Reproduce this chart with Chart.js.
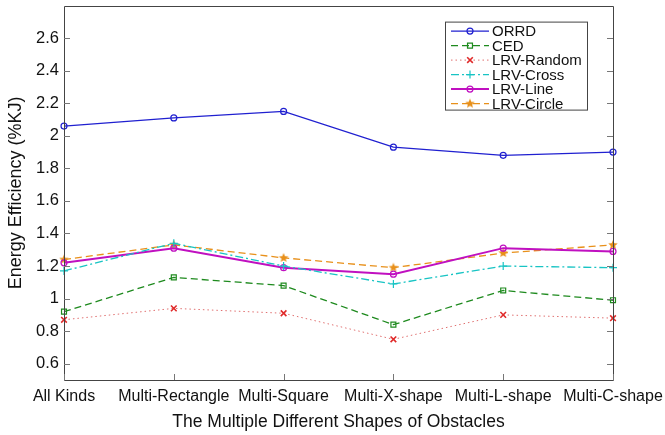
<!DOCTYPE html>
<html>
<head>
<meta charset="utf-8">
<script src="https://cdn.jsdelivr.net/npm/chart.js@4.4.1/dist/chart.umd.min.js"></script>
<style>
  html, body { margin: 0; padding: 0; background: #fff; }
  #wrap { width: 665px; height: 435px; }
</style>
</head>
<body>
<div id="wrap"><canvas id="effChart" width="665" height="435"></canvas></div>
<script>
const shapes = ['All Kinds', 'Multi-Rectangle', 'Multi-Square', 'Multi-X-shape', 'Multi-L-shape', 'Multi-C-shape'];
const orrd = [2.06, 2.11, 2.15, 1.93, 1.88, 1.90];
const ced = [0.92, 1.13, 1.08, 0.84, 1.05, 0.99];
const lrvRandom = [0.87, 0.94, 0.91, 0.75, 0.90, 0.88];
const lrvCross = [1.17, 1.34, 1.20, 1.09, 1.20, 1.19];
const lrvLine = [1.22, 1.31, 1.19, 1.15, 1.31, 1.29];
const lrvCircle = [1.24, 1.33, 1.25, 1.19, 1.28, 1.33];
const yTicks = [0.6, 0.8, 1, 1.2, 1.4, 1.6, 1.8, 2, 2.2, 2.4, 2.6];

const FONT = 'Arial, "Liberation Sans", sans-serif';

// filled five-point star used as the LRV-Circle marker
const makeStar = (color, r) => {
    const c = document.createElement('canvas');
    const s = r * 2 + 2;
    c.width = s; c.height = s;
    const g = c.getContext('2d');
    g.beginPath();
    for (let i = 0; i < 10; i++) {
        const rad = i % 2 === 0 ? r : r * 0.45;
        const a = -Math.PI / 2 + i * Math.PI / 5;
        g.lineTo(s / 2 + rad * Math.cos(a), s / 2 + rad * Math.sin(a));
    }
    g.closePath();
    g.fillStyle = color;
    g.fill();
    return c;
}

const line = (label, data, color, opts) => ({
    label,
    data,
    borderColor: color,
    backgroundColor: 'rgba(0,0,0,0)',
    pointBorderColor: color,
    pointBackgroundColor: 'rgba(0,0,0,0)',
    borderWidth: 1.3,
    pointRadius: 3,
    pointBorderWidth: 1.2,
    tension: 0,
    ...opts
})

const datasets = [
    line('ORRD', orrd, '#2020d0', {pointStyle: 'circle'}),
    line('CED', ced, '#1e8a1e', {pointStyle: 'rect', borderDash: [7, 4], pointRadius: 3.5}),
    line('LRV-Random', lrvRandom, '#e02a2a', {pointStyle: 'crossRot', borderDash: [1.5, 3], borderWidth: 1, borderColor: '#e07070', pointRadius: 4, pointBorderWidth: 1.6}),
    line('LRV-Cross', lrvCross, '#18c4c4', {pointStyle: 'cross', borderDash: [8, 3, 2, 3], pointRadius: 4}),
    line('LRV-Line', lrvLine, '#c010c0', {pointStyle: 'circle', borderWidth: 2}),
    line('LRV-Circle', lrvCircle, '#e8901a', {pointStyle: makeStar('#e8901a', 5), borderDash: [7, 4]}),
];

// MATLAB-like box with inward ticks
const framePlugin = {
    id: 'frame',
    afterDatasetsDraw(chart) {
        const {ctx, chartArea: a, scales} = chart;
        ctx.save();
        ctx.strokeStyle = '#444';
        ctx.lineWidth = 1;
        ctx.beginPath();
        ctx.rect(Math.round(a.left) + 0.5, Math.round(a.top) + 0.5, Math.round(a.right - a.left), Math.round(a.bottom - a.top));
        ctx.stroke();
        ctx.strokeStyle = '#777';
        ctx.beginPath();
        yTicks.forEach(v => {
            const y = Math.round(scales.y.getPixelForValue(v)) + 0.5;
            ctx.moveTo(a.left, y); ctx.lineTo(a.left + 6, y);
            ctx.moveTo(a.right, y); ctx.lineTo(a.right - 6, y);
        });
        shapes.forEach((s, i) => {
            const x = Math.round(scales.x.getPixelForValue(i)) + 0.5;
            ctx.moveTo(x, a.bottom); ctx.lineTo(x, a.bottom - 6);
        });
        ctx.stroke();
        ctx.restore();
    }
}

const drawMarker = (ctx, ds, x, y) => {
    const style = ds.pointStyle;
    if (style instanceof HTMLCanvasElement) {
        ctx.drawImage(style, x - style.width / 2, y - style.height / 2);
        return;
    }
    Chart.helpers.drawPoint(ctx, {
        pointStyle: style,
        radius: ds.pointRadius,
        rotation: 0,
        borderWidth: ds.pointBorderWidth
    }, x, y);
}

// boxed legend with line samples and markers
const legendPlugin = {
    id: 'boxLegend',
    afterDraw(chart) {
        const {ctx, chartArea: a} = chart;
        const right = a.right - 26, top = a.top + 16;
        const left = right - 142, rowH = 14.5;
        const h = rowH * datasets.length + 1;
        ctx.save();
        ctx.fillStyle = '#fff';
        ctx.fillRect(left, top, right - left, h);
        ctx.strokeStyle = '#444';
        ctx.lineWidth = 1;
        ctx.strokeRect(left + 0.5, top + 0.5, right - left, h);
        ctx.font = '15px ' + FONT;
        ctx.textBaseline = 'middle';
        chart.data.datasets.forEach((ds, i) => {
            const y = top + 9.5 + i * rowH;
            ctx.strokeStyle = ds.borderColor;
            ctx.lineWidth = ds.borderWidth;
            ctx.setLineDash(ds.borderDash || []);
            ctx.beginPath();
            ctx.moveTo(left + 6, y);
            ctx.lineTo(left + 44, y);
            ctx.stroke();
            ctx.setLineDash([]);
            ctx.strokeStyle = ds.pointBorderColor;
            ctx.fillStyle = ds.pointBackgroundColor;
            ctx.lineWidth = ds.pointBorderWidth;
            drawMarker(ctx, ds, left + 25, y);
            ctx.fillStyle = '#111';
            ctx.fillText(ds.label, left + 47, y + 1);
        });
        ctx.restore();
    }
}

const ctx = document.getElementById('effChart').getContext('2d');
const chart = new Chart(ctx, {
    type: 'line',
    data: {labels: shapes, datasets},
    options: {
        responsive: false,
        animation: false,
        layout: {padding: {top: 4, right: 52, left: 0, bottom: 0}},
        plugins: {
            legend: {display: false},
            tooltip: {enabled: false}
        },
        scales: {
            x: {
                offset: false,
                grid: {display: false, drawTicks: false},
                border: {display: false},
                ticks: {
                    color: '#111',
                    font: {family: FONT, size: 16},
                    padding: 7,
                    maxRotation: 0,
                    autoSkip: false
                },
                title: {
                    display: true,
                    text: 'The Multiple Different Shapes of Obstacles',
                    color: '#111',
                    font: {family: FONT, size: 17.5},
                    padding: {top: 0, bottom: 2.5}
                },
                afterFit: scale => {
                    scale.height = 55;
                    scale.paddingLeft = 0;
                    scale.paddingRight = 0;
                }
            },
            y: {
                min: 0.5,
                max: 2.8,
                grid: {display: false, drawTicks: false},
                border: {display: false},
                afterBuildTicks: scale => {
                    scale.ticks = yTicks.map(v => ({value: v}));
                },
                ticks: {
                    color: '#111',
                    font: {family: FONT, size: 16.5},
                    padding: 5,
                    callback: v => String(Math.round(v * 10) / 10)
                },
                title: {
                    display: true,
                    text: 'Energy Efficiency (%KJ)',
                    color: '#111',
                    font: {family: FONT, size: 18},
                    padding: {top: 5, bottom: 0}
                },
                afterFit: scale => {
                    scale.width = 64;
                    scale.paddingTop = 0;
                    scale.paddingBottom = 0;
                }
            }
        }
    },
    plugins: [framePlugin, legendPlugin]
});
</script>
</body>
</html>
